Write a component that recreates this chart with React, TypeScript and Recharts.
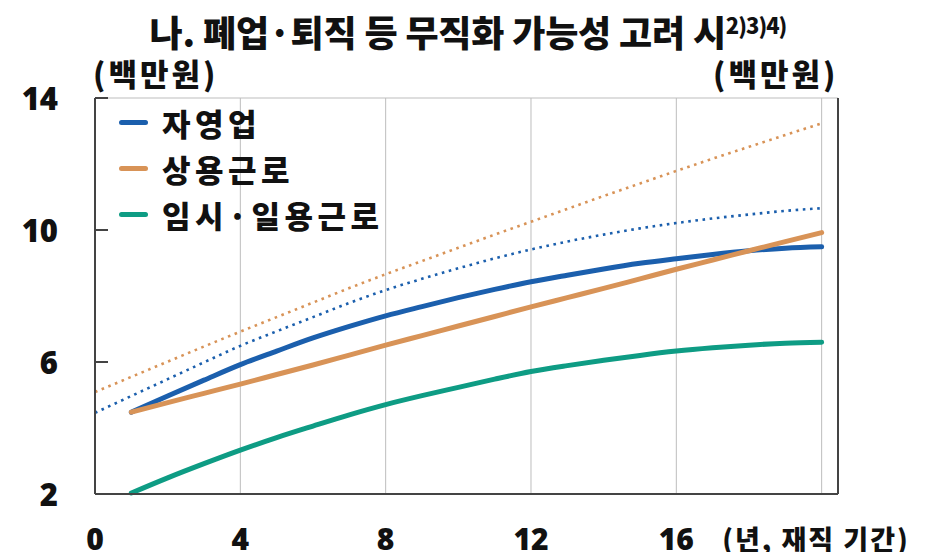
import { LineChart, Line, XAxis, YAxis, CartesianGrid } from "recharts";

// 재직 기간(년)
const years = [0, 1, 2, 3, 4, 5, 6, 7, 8, 9, 10, 11, 12, 13, 14, 15, 16, 17, 18, 19, 20];

// 무직화 가능성 고려 시 (백만원)
const selfEmployed = [null, 4.48, 4.97, 5.45, 5.92, 6.33, 6.73, 7.08, 7.4, 7.68, 7.95, 8.2, 8.43, 8.63, 8.82, 8.99, 9.13, 9.26, 9.37, 9.45, 9.49];
const regular = [null, 4.48, 4.77, 5.05, 5.33, 5.62, 5.91, 6.21, 6.51, 6.8, 7.09, 7.38, 7.67, 7.95, 8.23, 8.52, 8.81, 9.09, 9.37, 9.65, 9.92];
const temporary = [null, 2.03, 2.49, 2.92, 3.33, 3.71, 4.06, 4.4, 4.71, 4.98, 5.23, 5.48, 5.71, 5.89, 6.05, 6.2, 6.33, 6.43, 6.51, 6.57, 6.6];

// 점선: 비교 기준선
const selfEmployedRef = [4.46, 4.97, 5.48, 5.99, 6.49, 6.93, 7.36, 7.79, 8.18, 8.52, 8.84, 9.14, 9.41, 9.65, 9.86, 10.05, 10.21, 10.35, 10.47, 10.58, 10.66];
const regularRef = [5.09, 5.55, 6.01, 6.47, 6.92, 7.36, 7.8, 8.24, 8.66, 9.06, 9.46, 9.86, 10.25, 10.64, 11.03, 11.41, 11.79, 12.16, 12.52, 12.88, 13.23];

const xTicks = [0, 4, 8, 12, 16, 20];
const yTicks = [2, 6, 10, 14];
const xUnit = "(년, 재직 기간)";

const legendNames = ["자영업", "상용근로", "임시·일용근로"];
const BLUE = "#1b5fad";
const ORANGE = "#d89357";
const TEAL = "#0e9c84";
const legendColors = [BLUE, ORANGE, TEAL];

const data = years.map((year, i) => ({
  year,
  selfEmployed: selfEmployed[i],
  regular: regular[i],
  temporary: temporary[i],
  selfEmployedRef: selfEmployedRef[i],
  regularRef: regularRef[i],
}));

const KR = "'Noto Sans CJK KR', 'Noto Sans', sans-serif";
const NUM = "'Noto Sans', 'Open Sans', sans-serif";

const LeftTick = (props: any) => {
  const { y, payload } = props;
  return (
    <g>
      <line x1={95} x2={108} y1={y} y2={y} stroke="#444" strokeWidth={2} />
      <text x={58} y={y} textAnchor="end" dominantBaseline="central" fontFamily={NUM} fontWeight={900} fontSize={31} fill="#111">
        {payload.value}
      </text>
    </g>
  );
};

const RightTick = (props: any) => {
  const { y, payload } = props;
  return (
    <g>
      <line x1={825} x2={838} y1={y} y2={y} stroke="#444" strokeWidth={2} />
      <text x={877} y={y} textAnchor="start" dominantBaseline="central" fontFamily={NUM} fontWeight={900} fontSize={31} fill="#111">
        {payload.value}
      </text>
    </g>
  );
};

// x축: 20 자리에는 단위 표기
const BottomTick = (props: any) => {
  const { x, payload } = props;
  if (payload.value === 20) {
    return (
      <text x={816} y={538} textAnchor="middle" dominantBaseline="central" fontFamily={KR} fontWeight={900} fontSize={27} letterSpacing={2} fill="#111">
        {xUnit}
      </text>
    );
  }
  return (
    <text x={x} y={538} textAnchor="middle" dominantBaseline="central" fontFamily={NUM} fontWeight={900} fontSize={30} fill="#111">
      {payload.value}
    </text>
  );
};

const LegendBox = () => (
  <div style={{ position: "absolute", left: 119, top: 99, fontFamily: KR, fontWeight: 900, fontSize: 31, color: "#111" }}>
    {legendNames.map((name, i) => (
      <div key={name} style={{ display: "flex", alignItems: "center", height: 46 }}>
        <span style={{ display: "inline-block", width: 29, height: 5, borderRadius: 3, background: legendColors[i], marginRight: 14 }} />
        <span style={{ letterSpacing: 4.5 }}>{name}</span>
      </div>
    ))}
  </div>
);

export default function App() {
  return (
    <div style={{ position: "fixed", left: 0, top: 0, width: 936, height: 552, background: "#fff" }}>
      <div style={{ position: "absolute", left: 0, top: 5, width: 936, textAlign: "center", fontFamily: KR, fontWeight: 900, fontSize: 36, color: "#111", letterSpacing: -0.2, whiteSpace: "nowrap" }}>
        나. 폐업·퇴직 등 무직화 가능성 고려 시
        <span style={{ fontSize: 22, position: "relative", top: -13, letterSpacing: -1 }}>2)3)4)</span>
      </div>
      <div style={{ position: "absolute", left: 93, top: 50, fontFamily: KR, fontWeight: 900, fontSize: 31, color: "#111", letterSpacing: 3 }}>
        (백만원)
      </div>
      <div style={{ position: "absolute", left: 713, top: 50, fontFamily: KR, fontWeight: 900, fontSize: 31, color: "#111", letterSpacing: 3 }}>
        (백만원)
      </div>
      <LineChart width={936} height={552} data={data} margin={{ top: 98, right: 0, bottom: 0, left: 0 }}>
        <CartesianGrid stroke="#bdbdbd" strokeWidth={1} />
        <XAxis
          dataKey="year"
          type="number"
          domain={[0, 20.45]}
          ticks={xTicks}
          height={58}
          tick={<BottomTick />}
          tickLine={false}
          axisLine={{ stroke: "#444", strokeWidth: 2 }}
          interval={0}
        />
        <YAxis
          yAxisId="left"
          domain={[2, 14]}
          ticks={yTicks}
          width={95}
          tick={<LeftTick />}
          tickLine={false}
          axisLine={{ stroke: "#444", strokeWidth: 2 }}
          interval={0}
        />
        <YAxis
          yAxisId="right"
          orientation="right"
          domain={[2, 14]}
          ticks={yTicks}
          width={98}
          tick={<RightTick />}
          tickLine={false}
          axisLine={{ stroke: "#444", strokeWidth: 2 }}
          interval={0}
        />
        <Line yAxisId="left" type="monotone" dataKey="regularRef" stroke={ORANGE} strokeWidth={2.6} strokeDasharray="2.6 4.6" dot={false} isAnimationActive={false} />
        <Line yAxisId="left" type="monotone" dataKey="selfEmployedRef" stroke={BLUE} strokeWidth={2.6} strokeDasharray="2.6 4.6" dot={false} isAnimationActive={false} />
        <Line yAxisId="left" type="monotone" dataKey="temporary" stroke={TEAL} strokeWidth={5} strokeLinecap="round" dot={false} isAnimationActive={false} />
        <Line yAxisId="left" type="monotone" dataKey="selfEmployed" stroke={BLUE} strokeWidth={5} strokeLinecap="round" dot={false} isAnimationActive={false} />
        <Line yAxisId="left" type="monotone" dataKey="regular" stroke={ORANGE} strokeWidth={5} strokeLinecap="round" dot={false} isAnimationActive={false} />
      </LineChart>
      <LegendBox />
    </div>
  );
}
